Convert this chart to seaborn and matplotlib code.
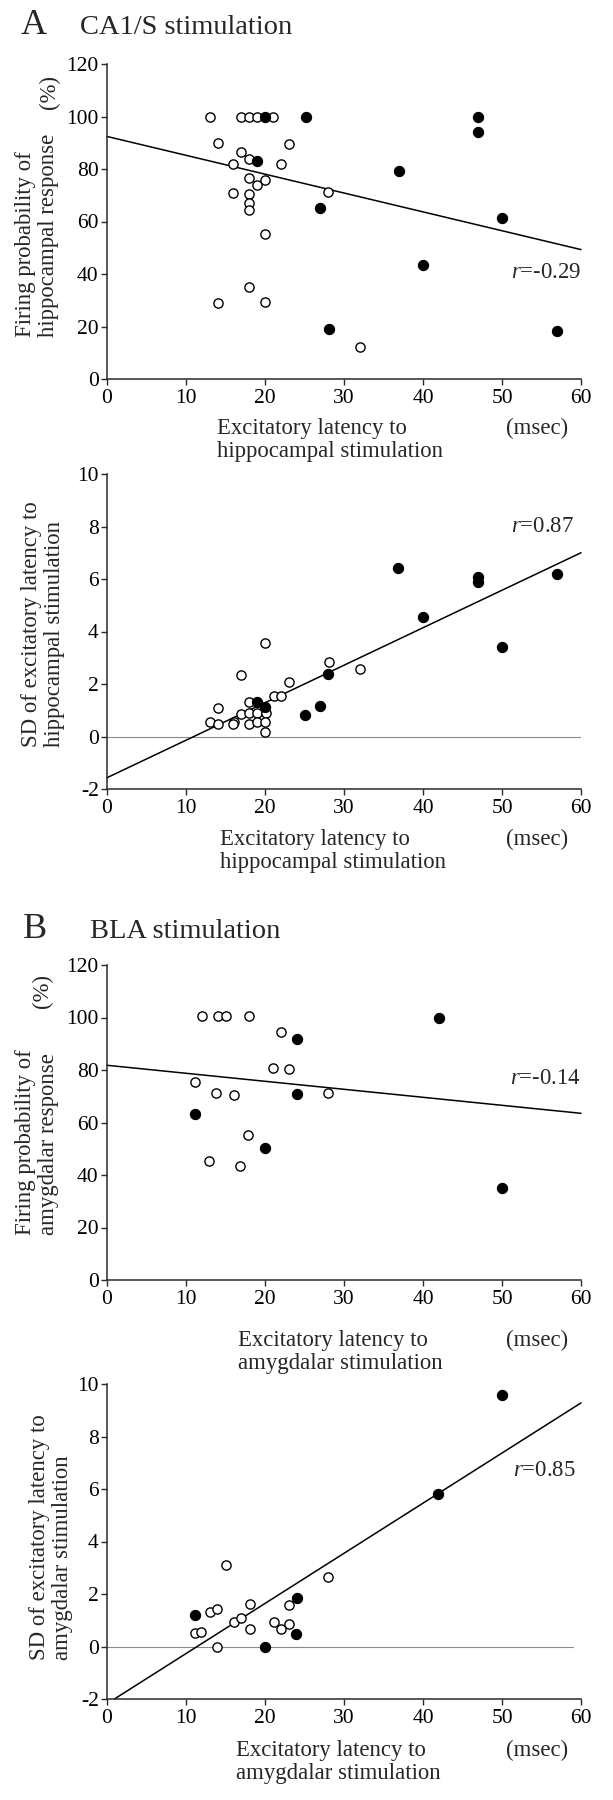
import matplotlib
matplotlib.use("Agg")
import matplotlib.pyplot as plt
import seaborn as sns
import numpy as np

# ---------------- data ----------------
# Panel A1: firing probability vs latency (hippocampal)
a1_open_x = [13, 17, 18, 19, 21, 14, 17, 18, 16, 22, 23, 18, 20, 19, 16, 18, 18, 18, 20, 28, 18, 14, 20, 32]
a1_open_y = [100, 100, 100, 100, 100, 90, 86.5, 83.8, 82, 82, 89.5, 76.4, 76, 74, 70.8, 70.3, 67, 64.2, 55.3, 71.4, 35.2, 28.8, 29.3, 12.1]
a1_fill_x = [20, 25.2, 19, 37, 27, 47, 47, 50, 40, 28.1, 57]
a1_fill_y = [100, 100, 83.2, 79.2, 65, 100, 94.2, 61.3, 43.5, 19.1, 18.3]
a1_line_x = [0, 60]
a1_line_y = [92.4, 49.3]

# Panel A2: SD of latency vs latency (hippocampal)
a2_open_x = [13.1, 14, 14, 16.1, 16, 17, 17, 18, 18, 18, 19, 19, 20, 20.1, 20, 20, 21.2, 22, 23.1, 28.1, 32]
a2_open_y = [0.56, 1.08, 0.49, 0.56, 0.46, 2.33, 0.86, 1.32, 0.9, 0.49, 0.9, 0.56, 3.58, 0.9, 0.56, 0.16, 1.53, 1.53, 2.08, 2.84, 2.57]
a2_fill_x = [19, 20, 25.1, 26.9, 28, 36.8, 40, 46.9, 47, 50, 57]
a2_fill_y = [1.32, 1.13, 0.82, 1.15, 2.38, 6.43, 4.57, 6.09, 5.9, 3.42, 6.18]
a2_line_x = [0, 60]
a2_line_y = [-1.57, 7.0]

# Panel B1: firing probability vs latency (amygdalar)
b1_open_x = [12, 14, 15, 18, 22, 21, 23, 11.2, 13.8, 16.1, 28, 17.9, 12.9, 16.8]
b1_open_y = [100.4, 100.4, 100.4, 100.4, 94.6, 80.8, 80.4, 75.5, 71.4, 70.3, 71.3, 55.1, 45.5, 43.6]
b1_fill_x = [24, 11.2, 24, 20, 42, 50]
b1_fill_y = [91.7, 63.4, 70.7, 50.1, 100, 35]
b1_line_x = [0, 60]
b1_line_y = [81.8, 63.5]

# Panel B2: SD of latency vs latency (amygdalar)
b2_open_x = [11.1, 11.9, 13.1, 13.9, 13.9, 15, 16.1, 16.9, 18.1, 18.1, 21.1, 22, 23, 23, 28]
b2_open_y = [0.51, 0.57, 1.32, 1.41, 0.0, 3.09, 0.94, 1.1, 1.61, 0.66, 0.94, 0.66, 1.58, 0.85, 2.66]
b2_fill_x = [11.1, 24, 23.9, 20, 41.9, 50]
b2_fill_y = [1.19, 1.84, 0.47, 0.0, 5.82, 9.59]
b2_line_x = [0.94, 60]
b2_line_y = [-2.0, 9.28]

x_ticks = [0, 10, 20, 30, 40, 50, 60]
prob_ticks = [0, 20, 40, 60, 80, 100, 120]
sd_ticks = [-2, 0, 2, 4, 6, 8, 10]

# ---------------- style ----------------
sns.set_style("ticks")
plt.rcParams["font.family"] = ["Liberation Serif", "DejaVu Serif"]
plt.rcParams["mathtext.fontset"] = "custom"
plt.rcParams["mathtext.it"] = "Liberation Serif:italic"
plt.rcParams["mathtext.rm"] = "Liberation Serif"
plt.rcParams["axes.unicode_minus"] = False

W, H = 613, 1800
fig = plt.figure(figsize=(W / 100, H / 100), dpi=100)

def ax_at(top, bottom, left=107, right=581):
    return fig.add_axes([left / W, 1 - bottom / H, (right - left) / W, (bottom - top) / H])

def ftext(x, y, s, **kw):
    fig.text(x / W, 1 - y / H, s, **kw)

TICK_FS = 15.5
LAB_FS = 16.4
SPINE_C = "#2a2a2a"

def style_axes(ax, ylim, yticks):
    ax.set_xlim(0, 60)
    ax.set_ylim(*ylim)
    ax.set_xticks(x_ticks)
    ax.set_yticks(yticks)
    ax.set_xticklabels([str(t) for t in x_ticks])
    ax.set_yticklabels([str(t) for t in yticks])
    for side in ["top", "right"]:
        ax.spines[side].set_visible(False)
    for side in ["left", "bottom"]:
        ax.spines[side].set_linewidth(1.1)
        ax.spines[side].set_color(SPINE_C)
    ax.tick_params(axis="both", direction="out", length=4.5, width=1.0, color=SPINE_C,
                   labelsize=TICK_FS, labelcolor="black")
    ax.tick_params(axis="x", pad=3)
    ax.tick_params(axis="y", pad=1.5)
    ax.set_xlabel("")
    ax.set_ylabel("")
    ax.patch.set_alpha(0)

def draw(ax, ox, oy, fx, fy, lx, ly):
    sns.lineplot(x=lx, y=ly, ax=ax, color="black", linewidth=1.1, zorder=2, clip_on=False)
    sns.scatterplot(x=ox, y=oy, ax=ax, marker="o", s=44, color="white",
                    edgecolor="black", linewidth=1.0, zorder=3, clip_on=False)
    sns.scatterplot(x=fx, y=fy, ax=ax, marker="o", s=54, color="black",
                    edgecolor="black", linewidth=0.8, zorder=4, clip_on=False)

# Panel A1
ax1 = ax_at(64, 379)
draw(ax1, a1_open_x, a1_open_y, a1_fill_x, a1_fill_y, a1_line_x, a1_line_y)
style_axes(ax1, (0, 120), prob_ticks)
ax1.text(60, 40.4, r"$\mathit{r}$=-0.29", ha="right", va="center", fontsize=LAB_FS)

# Panel A2
ax2 = ax_at(474, 789)
sns.lineplot(x=[0, 60], y=[0, 0], ax=ax2, color="#8a8a8a", linewidth=0.8, zorder=1)
draw(ax2, a2_open_x, a2_open_y, a2_fill_x, a2_fill_y, a2_line_x, a2_line_y)
style_axes(ax2, (-2, 10), sd_ticks)
ax2.text(59.1, 8.0, r"$\mathit{r}$=0.87", ha="right", va="center", fontsize=LAB_FS)

# Panel B1
ax3 = ax_at(965, 1280)
draw(ax3, b1_open_x, b1_open_y, b1_fill_x, b1_fill_y, b1_line_x, b1_line_y)
style_axes(ax3, (0, 120), prob_ticks)
ax3.text(60, 76.6, r"$\mathit{r}$=-0.14", ha="right", va="center", fontsize=LAB_FS)

# Panel B2
ax4 = ax_at(1384, 1699)
sns.lineplot(x=[0, 59], y=[0, 0], ax=ax4, color="#8a8a8a", linewidth=0.8, zorder=1)
draw(ax4, b2_open_x, b2_open_y, b2_fill_x, b2_fill_y, b2_line_x, b2_line_y)
style_axes(ax4, (-2, 10), sd_ticks)
ax4.text(59.3, 6.72, r"$\mathit{r}$=0.85", ha="right", va="center", fontsize=LAB_FS)

# ---------------- titles ----------------
ftext(21, 34, "A", fontsize=26, ha="left", va="baseline")
ftext(80, 34, "CA1/S stimulation", fontsize=20.5, ha="left", va="baseline")
ftext(23, 938, "B", fontsize=26, ha="left", va="baseline")
ftext(90, 938, "BLA stimulation", fontsize=20.5, ha="left", va="baseline")

# ---------------- x labels ----------------
def xlabel(left, top, s):
    ftext(left, top, s, fontsize=LAB_FS, ha="left", va="top", multialignment="left", linespacing=1.12)
    ftext(506, top, "(msec)", fontsize=LAB_FS, ha="left", va="top")

xlabel(217, 418, "Excitatory latency to\nhippocampal stimulation")
xlabel(220, 829, "Excitatory latency to\nhippocampal stimulation")
xlabel(238, 1330, "Excitatory latency to\namygdalar stimulation")
xlabel(236, 1740, "Excitatory latency to\namygdalar stimulation")

# ---------------- y labels ----------------
def ylabel(xc, bottom, s):
    ftext(xc, bottom, s, fontsize=LAB_FS, rotation=90, ha="center", va="bottom",
          multialignment="left", linespacing=1.12)

ylabel(37, 337, "Firing probability of\nhippocampal response")
ylabel(43, 747, "SD of excitatory latency to\nhippocampal stimulation")
ylabel(37, 1235, "Firing probability of\namygdalar response")
ylabel(51, 1660, "SD of excitatory latency to\namygdalar stimulation")

ftext(49, 92, "(%)", fontsize=LAB_FS, rotation=90, ha="center", va="center")
ftext(42, 991, "(%)", fontsize=LAB_FS, rotation=90, ha="center", va="center")

fig.savefig("out.png", dpi=100)
